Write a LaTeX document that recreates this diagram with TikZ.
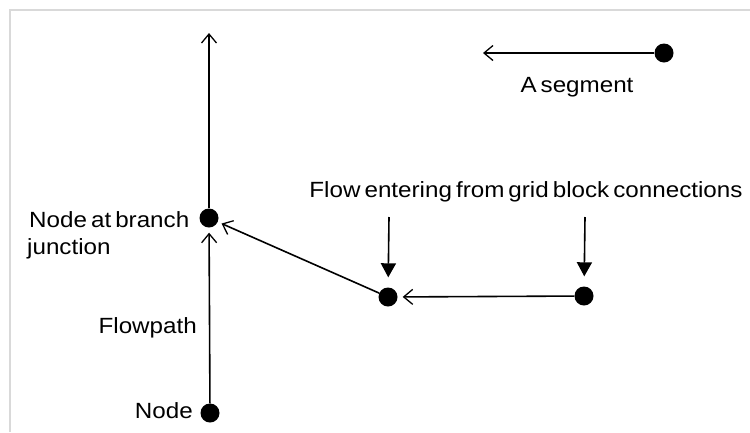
\documentclass[tikz,border=0pt]{standalone}
\usepackage{fontspec}
\setmainfont{Liberation Sans}[FakeStretch=1.1, WordSpace=0.6]
\usetikzlibrary{arrows.meta, calc}

\tikzset{
  dot/.style={circle, fill=black, inner sep=0pt, minimum size=19pt},
  txt/.style={inner sep=0pt, font=\fontsize{22}{27}\selectfont},
  flow/.style={line width=1.6pt, -{Straight Barb[length=9pt, width=15pt, line width=1.3pt]}},
  feed/.style={line width=1.6pt, -{Triangle[length=14pt, width=15pt]}},
}

\begin{document}
\begin{tikzpicture}[x=1pt, y=-1pt]
      \useasboundingbox (0,0) rectangle (750,432);
      \draw[color=black!15, line width=2pt] (10,432) -- (10,10) -- (750,10);

      % nodes
      \node[dot] (junc) at (209,218) {};
      \node[dot] (start) at (210,413) {};
      \node[dot] (mid) at (388,297) {};
      \node[dot] (right) at (584,296) {};
      \node[dot] (seg) at (664,53) {};

      \coordinate (top) at (209,33);
      \coordinate (segend) at (483,53);
      \coordinate (in1) at (389,217);
      \coordinate (in2) at (585,217);

      % flowpath
      \draw[flow] (junc) -- (top);
      \draw[flow, shorten >=5pt] (start) -- (junc);
      \draw[flow, shorten >=4pt] (mid) -- (junc);
      \draw[flow, shorten >=5pt] (right) -- (mid);
      \draw[flow] (seg) -- (segend);

      % grid block connections
      \draw[feed, shorten >=10pt] (in1) -- (mid);
      \draw[feed, shorten >=10pt] (in2) -- (right);

      % labels
      \node[txt, anchor=base] (segtxt) at (577,92) {A segment};
      \node[txt, anchor=base] (conntxt) at (526,197) {Flow entering from grid block connections};
      \node[txt, anchor=base west] (junctxt) at (29,227) {Node at branch};
      \node[txt, anchor=base west] (junctxt2) at (27,254) {junction};
      \node[txt, anchor=base east] (pathtxt) at (197,333) {Flowpath};
      \node[txt, anchor=base east] (starttxt) at (193,418) {Node};
\end{tikzpicture}
\end{document}
